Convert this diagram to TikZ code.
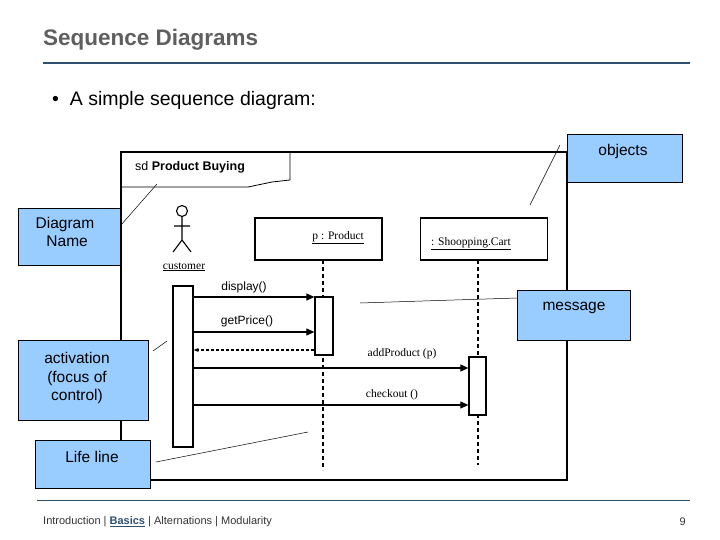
\documentclass[tikz,border=0pt]{standalone}
\usepackage{fontspec}
\setmainfont{Liberation Sans}
\newfontfamily\serifx{Liberation Serif}
\usetikzlibrary{arrows.meta}
\definecolor{callout}{HTML}{99CCFF}
\definecolor{titlegray}{HTML}{5F5F5F}
\definecolor{rulec}{HTML}{2F4F6F}
\begin{document}
\begin{tikzpicture}[x=1pt,y=-1pt,
  call/.style={draw=black,fill=callout,line width=0.8pt,inner sep=0pt},
  ctext/.style={align=center,font=\fontsize{15.5}{18.5}\selectfont,inner sep=0pt},
  obj/.style={draw=black,line width=1.3pt,minimum width=127pt,minimum height=42pt,inner sep=0pt},
  act/.style={draw=black,fill=white,line width=1.3pt,inner sep=0pt},
  msg/.style={line width=1.1pt,-{Triangle[length=8pt,width=7pt]}},
  lab/.style={font=\fontsize{12}{14}\selectfont,inner sep=1pt},
  slab/.style={font=\serifx\fontsize{11.5}{13}\selectfont,inner sep=1pt},
  life/.style={line width=1.3pt,dash pattern=on 4pt off 3pt},
  pointer/.style={line width=0.5pt}]
\useasboundingbox (0,0) rectangle (720,540);
\fill[white] (0,0) rectangle (720,540);
% title
\node[anchor=west,text=titlegray,font=\bfseries\fontsize{22.5}{26}\selectfont,inner sep=0pt] (title) at (43,40) {Sequence Diagrams};
\draw[rulec,line width=1.5pt] (43,63) -- (690,63);
\node[anchor=west,font=\fontsize{19.5}{22}\selectfont,inner sep=0pt] (bullet) at (52,100) {\textbullet\ \ A simple sequence diagram:};
% frame
\draw[line width=1.3pt] (121,480) -- (121,152) -- (567,152) -- (567,480) -- cycle;
\draw[line width=0.8pt] (121,187) -- (248,187) -- (272,182) -- (290,180) -- (290,152);
\node[anchor=west,font=\fontsize{12.5}{15}\selectfont,inner sep=0pt] (sdname) at (135,167) {sd \textbf{Product Buying}};
% actor
\draw[line width=1.1pt] (182,211) circle (5.5);
\draw[line width=1.1pt] (182,216.5) -- (182,240) (174,226) -- (190,226) (182,240) -- (173,252) (182,240) -- (191,252);
\node[slab] (cust) at (184,267) {\underline{customer}};
% objects
\node[obj] (prod) at (318.5,239) {};
\node[slab,anchor=east] (prodt) at (365,238) {\underline{p : Product}};
\node[obj] (cart) at (484,239) {};
\node[slab,anchor=west] (cartt) at (430,244) {\underline{: Shoopping.Cart}};
% lifelines
\coordinate (pl1) at (323,470);
\coordinate (cl1) at (478,465);
\draw[life] (323,260) -- (pl1);
\draw[life] (478,260) -- (cl1);
% activations
\node[act,minimum width=20pt,minimum height=161pt] (ca) at (183,366.5) {};
\node[act,minimum width=18pt,minimum height=58pt] (pa) at (324,326) {};
\node[act,minimum width=17pt,minimum height=58pt] (sa) at (477.5,386) {};
% messages
\draw[msg] (ca.east |- 0,297) -- (pa.west |- 0,297);
\node[lab] (m1) at (244,287) {display()};
\draw[msg] (ca.east |- 0,332) -- (pa.west |- 0,332);
\node[lab] (m2) at (247,321) {getPrice()};
\draw[line width=1.1pt,dash pattern=on 3pt off 2pt,-{Stealth[length=5pt,width=4pt]}] (pa.west |- 0,350) -- (ca.east |- 0,350);
\draw[msg] (ca.east |- 0,368) -- (sa.west |- 0,368);
\node[slab] (m3) at (402,354) {addProduct (p)};
\draw[msg] (ca.east |- 0,405) -- (sa.west |- 0,405);
\node[slab] (m4) at (392,395) {checkout ()};
% callouts
\node[call,minimum width=115pt,minimum height=48pt,anchor=north west] (objects) at (567,134) {};
\node[ctext] (objectst) at (623,151) {objects};
\draw[pointer] (560,145) -- (530,205);
\node[call,minimum width=102pt,minimum height=57pt,anchor=north west] (dname) at (18,208) {};
\node[ctext] (dnamet) at (65,232) {Diagram\\\ Name};
\draw[pointer] (121,225) -- (157,184);
\node[call,minimum width=113pt,minimum height=50pt,anchor=north west] (message) at (517,290) {};
\node[ctext] (messaget) at (574,308) {message};
\draw[pointer] (360,303) -- (message.west |- 0,298);
\node[call,minimum width=130pt,minimum height=80pt,anchor=north west] (activation) at (18,340) {};
\node[ctext] (activationt) at (77,378) {activation\\(focus of\\control)};
\draw[pointer] (153,351) -- (167,341);
\node[call,minimum width=115pt,minimum height=48pt,anchor=north west] (lifeline) at (35,440) {};
\node[ctext] (lifelinet) at (92,457) {Life line};
\draw[pointer] (156,462) -- (308,432);
% footer
\draw[line width=0.8pt,rulec] (37,500) -- (690,500);
\node[anchor=west,font=\fontsize{11}{13}\selectfont,inner sep=0pt,text=black!80] (foot) at (43,522) {Introduction | \textcolor{rulec}{\textbf{\underline{Basics}}} | Alternations | Modularity};
\node[anchor=east,font=\fontsize{11}{13}\selectfont,inner sep=0pt,text=black!80] (page) at (686,522) {9};
\end{tikzpicture}
\end{document}
